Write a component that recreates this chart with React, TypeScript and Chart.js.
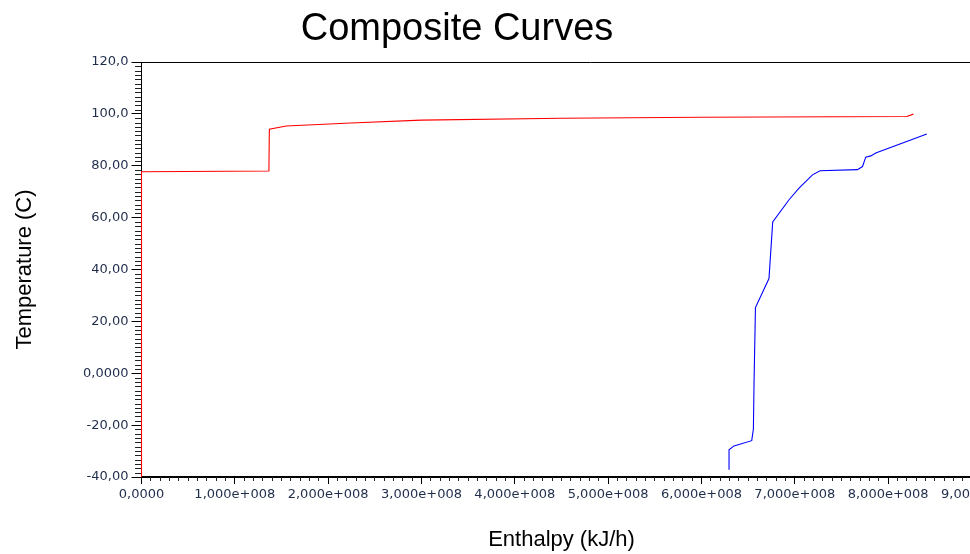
import React, { useEffect, useRef } from "react";
import { Chart, registerables } from "chart.js";

Chart.register(...registerables);

// Hot composite curve (red)
const hotEnthalpy = [0, 0, 1.365e8, 1.37e8, 1.55e8, 2.24e8, 3.0e8, 4.5e8, 6.0e8, 8.2e8, 8.27e8];
const hotTemp = [-40, 77.7, 78.0, 94.1, 95.3, 96.5, 97.6, 98.3, 98.7, 99.0, 99.9];

// Cold composite curve (blue)
const coldEnthalpy = [6.295e8, 6.295e8, 6.348e8, 6.538e8, 6.556e8, 6.563e8, 6.578e8, 6.723e8, 6.763e8, 6.938e8, 7.045e8, 7.189e8, 7.27e8, 7.671e8, 7.725e8, 7.76e8, 7.814e8, 7.867e8, 8.414e8];
const coldTemp = [-37.2, -29.5, -28.0, -26.0, -21.5, -3.6, 25.3, 36.5, 58.3, 66.9, 71.4, 76.5, 78.1, 78.5, 79.7, 83.3, 83.8, 84.9, 92.2];

// Tick labels
const yTickValues = [-40, -20, 0, 20, 40, 60, 80, 100, 120];
const yTickLabels = ["-40,00", "-20,00", "0,0000", "20,00", "40,00", "60,00", "80,00", "100,0", "120,0"];
const xTickValues = [0, 1e8, 2e8, 3e8, 4e8, 5e8, 6e8, 7e8, 8e8, 9e8];
const xTickLabels = ["0,0000", "1,000e+008", "2,000e+008", "3,000e+008", "4,000e+008", "5,000e+008", "6,000e+008", "7,000e+008", "8,000e+008", "9,000e+008"];

const titleText = "Composite Curves";
const xTitle = "Enthalpy (kJ/h)";
const yTitle = "Temperature (C)";

const CANVAS_W = 1040;
const CANVAS_H = 554;

const decorPlugin = {
  id: "decor",
  afterDraw(chart: any) {
    const ctx = chart.ctx;
    const area = chart.chartArea;
    const xs = chart.scales.x;
    const ys = chart.scales.y;
    ctx.save();
    // top frame line
    ctx.strokeStyle = "#000";
    ctx.lineWidth = 1;
    ctx.beginPath();
    ctx.moveTo(Math.floor(area.left), Math.round(area.top) + 0.5);
    ctx.lineTo(CANVAS_W, Math.round(area.top) + 0.5);
    ctx.stroke();
    // minor ticks
    ctx.strokeStyle = "#222";
    ctx.beginPath();
    const yStep = 20 / 12;
    const lx = Math.floor(area.left);
    for (let i = 0; i <= 96; i++) {
      if (i % 12 === 0) continue;
      const v = -40 + i * yStep;
      const py = Math.round(ys.getPixelForValue(v)) + 0.5;
      ctx.moveTo(lx - 6, py);
      ctx.lineTo(lx, py);
    }
    for (let i = 0; i <= 90; i++) {
      if (i % 10 === 0) continue;
      const v = i * 1e7;
      const px = Math.floor(xs.getPixelForValue(v)) + 0.5;
      ctx.moveTo(px, area.bottom);
      ctx.lineTo(px, area.bottom + 4);
    }
    ctx.stroke();
    // main title
    ctx.fillStyle = "#000";
    ctx.font = "38px 'Liberation Sans', Arial, sans-serif";
    ctx.textAlign = "center";
    ctx.textBaseline = "alphabetic";
    ctx.fillText(titleText, 457, 40);
    ctx.restore();
  },
};

export default function App() {
  const ref = useRef<HTMLCanvasElement | null>(null);

  useEffect(() => {
    if (!ref.current) return;
    const hot = hotEnthalpy.map((x, i) => ({ x, y: hotTemp[i] }));
    const cold = coldEnthalpy.map((x, i) => ({ x, y: coldTemp[i] }));
    const tickFont = { family: "'DejaVu Sans', sans-serif", size: 13 };
    const tickColor = "#1f2d4a";
    const chart = new Chart(ref.current, {
      type: "scatter",
      data: {
        datasets: [
          { data: hot, showLine: true, borderColor: "#ff0000", borderWidth: 1.1, pointRadius: 0, tension: 0, clip: false },
          { data: cold, showLine: true, borderColor: "#0000ff", borderWidth: 1.1, pointRadius: 0, tension: 0, clip: false },
        ],
      },
      options: {
        responsive: false,
        animation: false,
        devicePixelRatio: 1,
        layout: { padding: { left: 0, top: 62, right: CANVAS_W - 981.5, bottom: 0 } },
        plugins: { legend: { display: false }, tooltip: { enabled: false }, title: { display: false } },
        scales: {
          x: {
            type: "linear",
            min: 0,
            max: 9e8,
            afterFit: (s: any) => { s.height = 77; },
            afterBuildTicks: (s: any) => { s.ticks = xTickValues.map((v) => ({ value: v })); },
            ticks: {
              autoSkip: false,
              maxRotation: 0,
              padding: 3,
              color: tickColor,
              font: tickFont,
              callback: (v: any) => { const i = xTickValues.indexOf(Number(v)); return i >= 0 ? xTickLabels[i] : ""; },
            },
            grid: { drawOnChartArea: false, drawTicks: true, tickLength: 7, color: "#000", tickColor: "#000" },
            border: { display: true, color: "#000", width: 2 },
            title: { display: true, text: xTitle, color: "#000", font: { family: "'Liberation Sans', Arial, sans-serif", size: 22, lineHeight: 1.2 }, padding: { top: 0, bottom: 1 } },
          },
          y: {
            type: "linear",
            min: -40,
            max: 120,
            afterFit: (s: any) => { s.width = 141.5; },
            afterBuildTicks: (s: any) => { s.ticks = yTickValues.map((v) => ({ value: v })); },
            ticks: {
              autoSkip: false,
              padding: 3,
              color: tickColor,
              font: tickFont,
              callback: (v: any) => { const i = yTickValues.indexOf(Number(v)); return i >= 0 ? yTickLabels[i] : ""; },
            },
            grid: { drawOnChartArea: false, drawTicks: true, tickLength: 10, color: "#000", tickColor: "#000" },
            border: { display: true, color: "#000", width: 1 },
            title: { display: true, text: yTitle, color: "#000", font: { family: "'Liberation Sans', Arial, sans-serif", size: 22, lineHeight: 1.2 }, padding: { top: 12, bottom: 0 } },
          },
        },
      },
      plugins: [decorPlugin],
    } as any);
    return () => chart.destroy();
  }, []);

  return (
    <div style={{ position: "absolute", left: 0, top: 0, width: 970, height: 554, overflow: "hidden", background: "#fff" }}>
      <canvas ref={ref} width={CANVAS_W} height={CANVAS_H} style={{ width: CANVAS_W, height: CANVAS_H, display: "block" }} />
    </div>
  );
}
